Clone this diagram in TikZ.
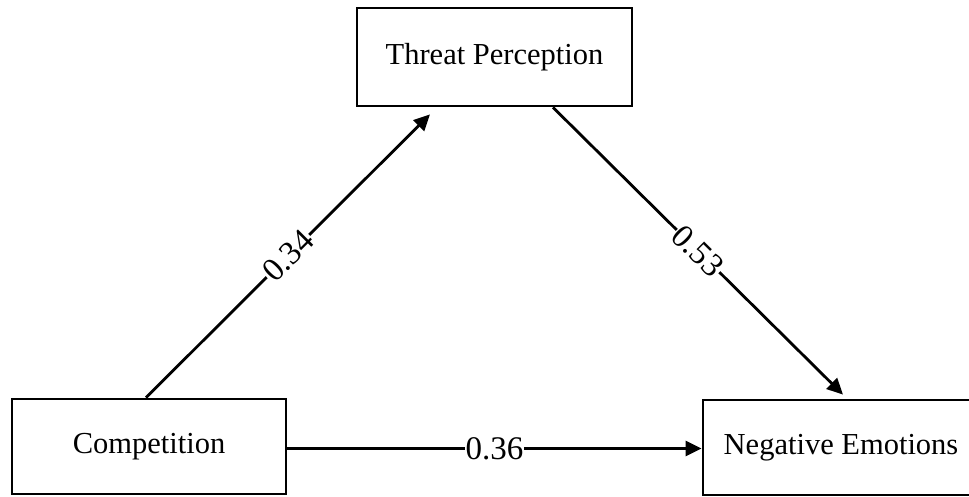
\documentclass[tikz,border=0pt]{standalone}
\usepackage{fontspec}
\setmainfont{Liberation Serif}
\usetikzlibrary{arrows.meta}
\begin{document}
\begin{tikzpicture}[x=1pt,y=-1pt,
  box/.style={draw,line width=2.8pt,fill=white,inner sep=0pt,font=\fontsize{30.5}{36}\selectfont},
  link/.style={line width=2.8pt,-{Triangle[length=16pt,width=15pt]}},
  coef/.style={fill=white,inner sep=1pt,font=\fontsize{33}{38}\selectfont}]
\useasboundingbox (0,0) rectangle (969,496);
\fill[white] (0,0) rectangle (969,496);
\node[box,minimum width=275pt,minimum height=98pt] (tp) at (494.5,57) {Threat Perception};
\node[box,minimum width=274pt,minimum height=95pt] (comp) at (149,446.5) {Competition};
\node[box,minimum width=276pt,minimum height=95pt] (ne) at (841,447.5) {Negative Emotions};
\draw[link] ([xshift=-3pt]comp.north) -- node[coef,sloped] {0.34} ([xshift=-64.5pt,yshift=-7pt]tp.south);
\draw[link] ([xshift=58.5pt]tp.south) -- node[coef,sloped] {0.53} ([xshift=2pt,yshift=4pt]ne.north);
\draw[link] ([yshift=-2pt]comp.east) -- node[coef] {0.36} ([yshift=-2pt]comp.east -| ne.west);
\end{tikzpicture}
\end{document}
